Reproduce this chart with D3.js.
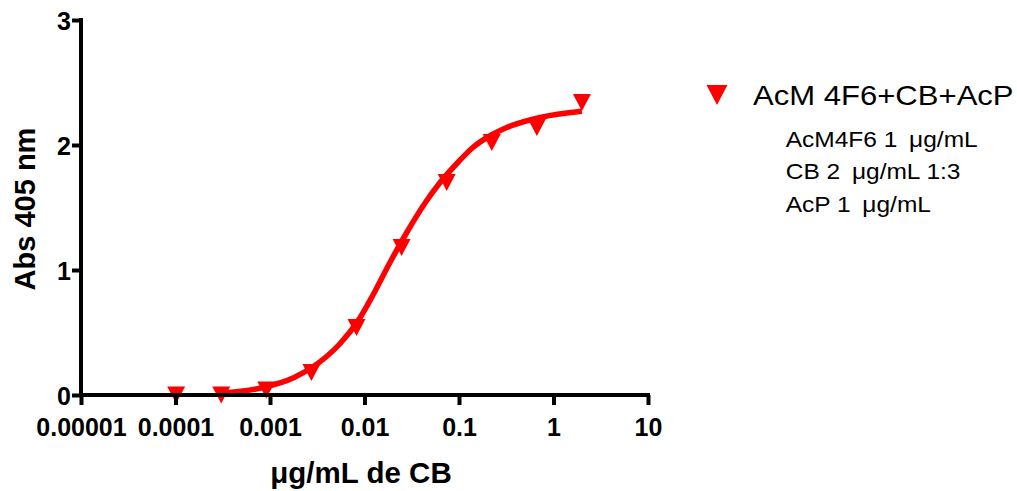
<!DOCTYPE html>
<meta charset="utf-8">
<title>Abs 405 nm vs CB</title>
<style>
    body {
        margin: 0;
        background: #fff;
    }

    text {
        font-family: "Liberation Sans", Arial, sans-serif;
    }

    .tick text {
        font-size: 25px;
        font-weight: bold;
    }
</style>
<body>
<script src="https://cdnjs.cloudflare.com/ajax/libs/d3/7.8.5/d3.min.js"></script>
<script>
    // measured points (CB dilution 1:3 from 2 ug/mL)
    var conc = [2, 0.6667, 0.2222, 0.07407, 0.02469, 0.00823, 0.002743, 0.000914, 0.0003048, 0.0001016];
    var abs = [2.34, 2.14, 2.02, 1.70, 1.18, 0.54, 0.18, 0.04, 0.0, 0.0];

    // fitted curve
    var fitX = [0.0003, 0.0008, 0.0018, 0.004, 0.0055, 0.009, 0.0123, 0.018, 0.028, 0.045, 0.063, 0.1, 0.14, 0.22, 0.32, 0.72, 2];
    var fitY = [0.015, 0.056, 0.14, 0.31, 0.41, 0.62, 0.80, 1.04, 1.30, 1.55, 1.70, 1.87, 1.98, 2.08, 2.14, 2.22, 2.27];

    var xTicks = [0.00001, 0.0001, 0.001, 0.01, 0.1, 1, 10];
    var xTickLabels = ["0.00001", "0.0001", "0.001", "0.01", "0.1", "1", "10"];
    var yTicks = [0, 1, 2, 3];

    var legendTitle = "AcM 4F6+CB+AcP";
    var legendLines = ["AcM4F6 1 \u2009\u03bcg/mL", "CB 2 \u2009\u03bcg/mL 1:3", "AcP 1 \u2009\u03bcg/mL"];

    var W = 1017, H = 491;
    var red = "#ff0000";

    var svg = d3.select("body").append("svg")
        .attr("width", W)
        .attr("height", H);

    var x = d3.scaleLog().domain([0.00001, 10]).range([81, 648]);
    var y = d3.scaleLinear().domain([0, 3]).range([395, 20]);

    // fitted curve
    var line = d3.line()
        .x(function (d, i) { return x(fitX[i]); })
        .y(function (d) { return y(d); })
        .curve(d3.curveMonotoneX);

    // markers (tip down)
    var tri = function (w, h) {
        return "M" + (-w / 2) + "," + (-h / 2) + "L" + (w / 2) + "," + (-h / 2) + "L0," + (h / 2) + "Z";
    };

    svg.selectAll("path.pt")
        .data(abs)
        .enter()
        .append("path")
        .attr("class", "pt")
        .attr("d", tri(18, 17))
        .attr("transform", function (d, i) {
            return "translate(" + x(conc[i]) + "," + y(d) + ")";
        })
        .attr("fill", red);

    svg.append("path")
        .datum(fitY)
        .attr("d", line)
        .attr("fill", "none")
        .attr("stroke", red)
        .attr("stroke-width", 5.5)
        .attr("stroke-linejoin", "round");

    // axes
    var xAxis = svg.append("g")
        .attr("transform", "translate(0,395)")
        .call(d3.axisBottom(x)
            .tickValues(xTicks)
            .tickFormat(function (d, i) { return xTickLabels[i]; })
            .tickSizeOuter(0)
            .tickSize(10)
            .tickPadding(13));

    var yAxis = svg.append("g")
        .attr("transform", "translate(81,0)")
        .call(d3.axisLeft(y)
            .tickValues(yTicks)
            .tickFormat(d3.format("d"))
            .tickSizeOuter(0)
            .tickSize(9)
            .tickPadding(1));

    [xAxis, yAxis].forEach(function (g) {
        g.select(".domain").attr("stroke", "#000").attr("stroke-width", 4);
        g.selectAll(".tick line").attr("stroke", "#000").attr("stroke-width", 4);
        g.selectAll(".tick text").attr("fill", "#000");
    });
    xAxis.select(".domain").attr("d", "M79,0H650");
    yAxis.select(".domain").attr("d", "M0,18V397");
    yAxis.selectAll(".tick text").attr("dy", "0.36em");

    // axis titles
    svg.append("text")
        .attr("x", 361)
        .attr("y", 483)
        .attr("text-anchor", "middle")
        .attr("font-size", 29.5)
        .attr("font-weight", "bold")
        .text("\u03bcg/mL de CB");

    svg.append("text")
        .attr("transform", "translate(35,209) rotate(-90)")
        .attr("text-anchor", "middle")
        .attr("font-size", 29)
        .attr("font-weight", "bold")
        .text("Abs 405 nm");

    // legend
    svg.append("path")
        .attr("d", tri(21, 20))
        .attr("transform", "translate(717,95)")
        .attr("fill", red);

    // legend text in the reference is a bit wider than plain Arial
    var lg = svg.append("g")
        .attr("transform", "translate(753,0) scale(1.09,1)");

    lg.append("text")
        .attr("x", 0)
        .attr("y", 105)
        .attr("font-size", 28.5)
        .text(legendTitle);

    lg.selectAll("text.sub")
        .data(legendLines)
        .enter()
        .append("text")
        .attr("class", "sub")
        .attr("x", 30)
        .attr("y", function (d, i) { return 147 + i * 32.5; })
        .attr("font-size", 22.5)
        .text(function (d) { return d; });
</script>
